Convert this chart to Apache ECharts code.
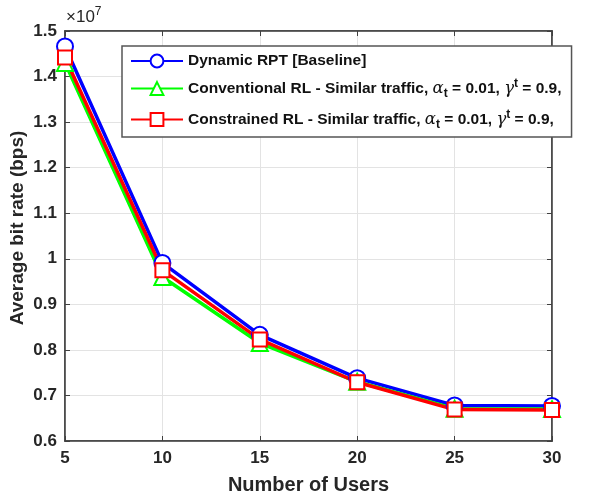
<!DOCTYPE html>
<html>
<head>
<meta charset="utf-8">
<script src="https://cdn.jsdelivr.net/npm/echarts@6/dist/echarts.min.js"></script>
<style>
  html, body { margin: 0; padding: 0; background: #fff; }
  #main { width: 599px; height: 498px; }
</style>
</head>
<body>
<div id="main"></div>
<script>
// x axis: number of users
var users = [5, 10, 15, 20, 25, 30];
// average bit rate, in units of 1e7 bps
var dynamicRpt = [1.466, 0.991, 0.833, 0.738, 0.678, 0.677];
var conventionalRl = [1.430, 0.960, 0.815, 0.730, 0.671, 0.670];
var constrainedRl = [1.442, 0.975, 0.823, 0.729, 0.669, 0.668];
var seriesNames = ['Dynamic RPT [Baseline]', 'Conventional RL - Similar traffic', 'Constrained RL - Similar traffic'];
var yTicks = [0.6, 0.7, 0.8, 0.9, 1, 1.1, 1.2, 1.3, 1.4, 1.5];

var font = 'Liberation Sans, Arial, sans-serif';
var axisColor = '#404040';

function pair(xs, ys) {
	return xs.map(function (x, i) { return [x, ys[i]]; });
}

var myChart = echarts.init(document.getElementById('main'));
var option = {
	backgroundColor: '#fff',
	animation: false,
	grid: {
		left: 65,
		right: 47,
		top: 31,
		bottom: 57,
		outerBoundsMode: 'none',
		containLabel: false,
		show: true,
		borderColor: axisColor,
		borderWidth: 1.5
	},
	legend: {
		orient: 'vertical',
		left: 122,
		top: 46,
		width: 450,
		padding: [7, 10, 6, 8],
		itemGap: 8,
		itemWidth: 52,
		itemHeight: 16,
		backgroundColor: '#fff',
		borderColor: '#555',
		borderWidth: 1.5,
		data: seriesNames,
		formatter: function (name) {
			if (name === seriesNames[0]) return '{b|' + name + '}';
			return '{b|' + name + ', }{g|α}{sub|t}{b| = 0.01, }{g|γ}{sup|t}{b| = 0.9,}';
		},
		textStyle: {
			rich: {
				b: { fontFamily: font, fontWeight: 'bold', fontSize: 15.5, color: '#111', lineHeight: 22 },
				g: { fontFamily: 'DejaVu Serif, serif', fontStyle: 'italic', fontSize: 16.5, color: '#111', lineHeight: 22 },
				sub: { fontFamily: font, fontWeight: 'bold', fontSize: 12, color: '#111', padding: [11, 0, 0, 0], lineHeight: 22 },
				sup: { fontFamily: font, fontWeight: 'bold', fontSize: 12, color: '#111', padding: [0, 0, 9, 0], lineHeight: 22 }
			}
		}
	},
	xAxis: [{
		type: 'value',
		min: 5,
		max: 30,
		interval: 5,
		name: 'Number of Users',
		nameLocation: 'middle',
		nameGap: 34,
		nameMoveOverlap: false,
		nameTextStyle: { fontFamily: font, fontWeight: 'bold', fontSize: 20, color: '#262626' },
		axisLine: { lineStyle: { color: axisColor, width: 1.5 } },
		axisTick: { inside: true, length: 5, lineStyle: { color: axisColor } },
		axisLabel: { fontFamily: font, fontWeight: 'bold', fontSize: 17, color: '#262626', margin: 9 },
		splitLine: { show: true, lineStyle: { color: '#e3e3e3', width: 1 } }
	}, {
		type: 'value',
		position: 'top',
		min: 5,
		max: 30,
		interval: 5,
		axisLine: { lineStyle: { color: axisColor, width: 1.5 } },
		axisTick: { inside: true, length: 5, lineStyle: { color: axisColor } },
		axisLabel: { show: false },
		splitLine: { show: false }
	}],
	yAxis: [{
		type: 'value',
		min: 0.6,
		max: 1.5,
		interval: 0.1,
		name: 'Average bit rate (bps)',
		nameLocation: 'middle',
		nameGap: 38,
		nameMoveOverlap: false,
		nameTextStyle: { fontFamily: font, fontWeight: 'bold', fontSize: 19, color: '#262626', padding: [0, 0, 0, 16] },
		axisLine: { show: true, lineStyle: { color: axisColor, width: 1.5 } },
		axisTick: { inside: true, length: 5, lineStyle: { color: axisColor } },
		axisLabel: {
			fontFamily: font, fontWeight: 'bold', fontSize: 17, color: '#262626', margin: 8,
			formatter: function (v) {
				var t = yTicks.find(function (k) { return Math.abs(k - v) < 1e-6; });
				return t === undefined ? '' : String(t);
			}
		},
		splitLine: { show: true, lineStyle: { color: '#e3e3e3', width: 1 } }
	}, {
		type: 'value',
		position: 'right',
		min: 0.6,
		max: 1.5,
		interval: 0.1,
		axisLine: { show: true, lineStyle: { color: axisColor, width: 1.5 } },
		axisTick: { show: true, inside: true, length: 5, lineStyle: { color: axisColor } },
		axisLabel: { show: false },
		splitLine: { show: false }
	}],
	graphic: [{
		type: 'text',
		left: 66,
		top: 6,
		style: {
			text: '{m|×10}{s|7}',
			rich: {
				m: { fontFamily: font, fontSize: 17, fill: '#262626' },
				s: { fontFamily: font, fontSize: 12, fill: '#262626', padding: [0, 0, 10, 0] }
			}
		}
	}],
	series: [{
		name: seriesNames[0],
		type: 'line',
		data: pair(users, dynamicRpt),
		symbol: 'emptyCircle',
		symbolSize: 16,
		color: '#0000ff',
		lineStyle: { width: 3.5 },
		itemStyle: { borderWidth: 2.5 }
	}, {
		name: seriesNames[1],
		type: 'line',
		data: pair(users, conventionalRl),
		symbol: 'emptyTriangle',
		symbolSize: 16,
		color: '#00ff00',
		lineStyle: { width: 3.5 },
		itemStyle: { borderWidth: 2.5 }
	}, {
		name: seriesNames[2],
		type: 'line',
		data: pair(users, constrainedRl),
		symbol: 'emptyRect',
		symbolSize: 14,
		color: '#ff0000',
		lineStyle: { width: 3.5 },
		itemStyle: { borderWidth: 2.5 }
	}]
};
myChart.setOption(option);
</script>
</body>
</html>
